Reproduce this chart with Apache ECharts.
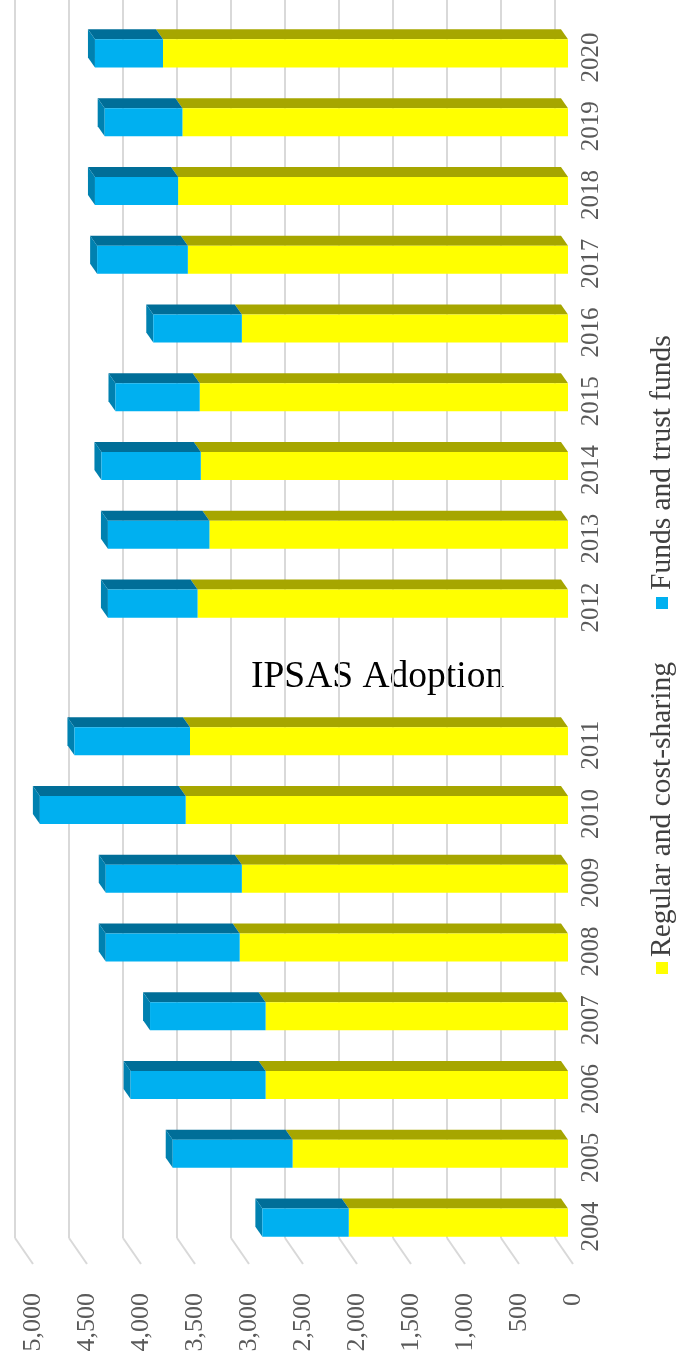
<!DOCTYPE html>
<html>
<head>
<meta charset="utf-8">
<script src="https://cdn.jsdelivr.net/npm/echarts@6/dist/echarts.min.js"></script>
<style>
html, body { margin: 0; padding: 0; background: #fff; }
#chart { width: 682px; height: 1357px; }
</style>
</head>
<body>
<div id="chart"></div>
<script>
// empty slot between 2011 and 2012 holds the IPSAS note
const categories = ['2004', '2005', '2006', '2007', '2008', '2009', '2010', '2011', '',
    '2012', '2013', '2014', '2015', '2016', '2017', '2018', '2019', '2020'];
const regular = [2030, 2550, 2800, 2800, 3040, 3020, 3540, 3500, null,
    3430, 3320, 3400, 3410, 3020, 3520, 3610, 3570, 3750];
const funds = [800, 1110, 1250, 1070, 1240, 1260, 1350, 1070, null,
    830, 940, 920, 780, 820, 840, 770, 720, 630];
const valueTicks = [0, 500, 1000, 1500, 2000, 2500, 3000, 3500, 4000, 4500, 5000];
const legendNames = ['Regular and cost-sharing', 'Funds and trust funds'];
const noteText = 'IPSAS Adoption';

const FONT = "'Liberation Serif', 'Times New Roman', serif";
// 3d offsets in px from the back wall (the page is the chart turned on its side)
const FLOOR = [18, 26];
const FRONT = [13, 19];
const BACK = [6, 9];

const YELLOW = { front: '#FFFF00', top: '#A6A600', side: '#A6A600' };
const BLUE = { front: '#00B0F0', top: '#006E98', side: '#0081B0' };

function barData(base, vals) {
    const out = [];
    vals.forEach((v, i) => {
        if (v == null) return;
        const lo = base ? base[i] : 0;
        out.push([i, lo, lo + v]);
    });
    return out;
}

function barItem(colors, withCap) {
    return function (params, api) {
        const cat = api.value(0);
        const a = api.coord([api.value(1), cat]);
        const b = api.coord([api.value(2), cat]);
        const half = api.size([0, 1])[1] * 0.204;
        const xr = a[0], xl = b[0]; // inverse axis: bigger value is on the left
        const yt = a[1] - half, yb = a[1] + half;
        const children = [{
            type: 'polygon',
            shape: { points: [
                [xl + FRONT[0], yt + FRONT[1]], [xr + FRONT[0], yt + FRONT[1]],
                [xr + BACK[0], yt + BACK[1]], [xl + BACK[0], yt + BACK[1]]
            ] },
            style: { fill: colors.top }
        }];
        if (withCap) {
            children.push({
                type: 'polygon',
                shape: { points: [
                    [xl + BACK[0], yt + BACK[1]], [xl + FRONT[0], yt + FRONT[1]],
                    [xl + FRONT[0], yb + FRONT[1]], [xl + BACK[0], yb + BACK[1]]
                ] },
                style: { fill: colors.side }
            });
        }
        children.push({
            type: 'rect',
            shape: { x: xl + FRONT[0], y: yt + FRONT[1], width: xr - xl, height: yb - yt },
            style: { fill: colors.front }
        });
        return { type: 'group', children: children };
    };
}

const chart = echarts.init(document.getElementById('chart'), null, { renderer: 'canvas' });

const option = {
    backgroundColor: '#fff',
    animation: false,
    grid: [
        // back wall
        { left: 15, right: 127, top: 0, bottom: 119, outerBoundsMode: 'none' },
        // front edge of the floor, only used for labels
        { left: 33, right: 109, top: 23, bottom: 96, outerBoundsMode: 'none' }
    ],
    xAxis: [{
        type: 'value', gridIndex: 0, min: 0, max: 5000, interval: 500, inverse: true,
        axisLine: { show: false }, axisTick: { show: false }, axisLabel: { show: false },
        splitLine: { lineStyle: { color: '#D9D9D9', width: 2 } }
    }, {
        type: 'value', gridIndex: 1, min: 0, max: 5000, interval: 500, inverse: true,
        position: 'bottom',
        axisLine: { show: false }, axisTick: { show: false }, splitLine: { show: false },
        axisLabel: {
            rotate: 90, margin: 32, fontFamily: FONT, fontSize: 26, color: '#595959',
            formatter: v => v.toLocaleString('en-US')
        }
    }],
    yAxis: [{
        type: 'category', gridIndex: 0, data: categories, position: 'right',
        axisLine: { show: false }, axisTick: { show: false }, axisLabel: { show: false },
        splitLine: { show: false }
    }, {
        type: 'category', gridIndex: 1, data: categories, position: 'right',
        axisLine: { show: false }, axisTick: { show: false }, splitLine: { show: false },
        axisLabel: { rotate: 90, margin: 6, interval: 0, fontFamily: FONT, fontSize: 25, color: '#595959' }
    }],
    series: [{
        // floor lines running forward from each gridline
        type: 'custom', xAxisIndex: 0, yAxisIndex: 0, clip: false, silent: true,
        data: valueTicks.map(v => [v]),
        encode: { x: 0 },
        renderItem: function (params, api) {
            const x = api.coord([api.value(0), 0])[0];
            const y = params.coordSys.y + params.coordSys.height;
            return {
                type: 'line',
                shape: { x1: x, y1: y, x2: x + FLOOR[0], y2: y + FLOOR[1] },
                style: { stroke: '#D9D9D9', lineWidth: 2 }
            };
        }
    }, {
        name: legendNames[0],
        type: 'custom', xAxisIndex: 0, yAxisIndex: 0, clip: false,
        data: barData(null, regular),
        encode: { x: [1, 2], y: 0 },
        renderItem: barItem(YELLOW, false)
    }, {
        name: legendNames[1],
        type: 'custom', xAxisIndex: 0, yAxisIndex: 0, clip: false,
        data: barData(regular, funds),
        encode: { x: [1, 2], y: 0 },
        renderItem: barItem(BLUE, true)
    }],
    graphic: [
        { type: 'rect', x: 656, y: 962, shape: { width: 12, height: 12 }, style: { fill: '#FFFF00' } },
        { type: 'text', x: 662, y: 957, rotation: Math.PI / 2,
          style: { text: legendNames[0], font: '29.5px ' + FONT, fill: '#404040', align: 'left', verticalAlign: 'middle' } },
        { type: 'rect', x: 656, y: 597, shape: { width: 12, height: 12 }, style: { fill: '#00B0F0' } },
        { type: 'text', x: 662, y: 590, rotation: Math.PI / 2,
          style: { text: legendNames[1], font: '29.5px ' + FONT, fill: '#404040', align: 'left', verticalAlign: 'middle' } },
        { type: 'text', x: 251, y: 677,
          style: { text: noteText, font: '37.5px ' + FONT, fill: '#000', align: 'left', verticalAlign: 'middle' } }
    ]
};

chart.setOption(option);
</script>
</body>
</html>
